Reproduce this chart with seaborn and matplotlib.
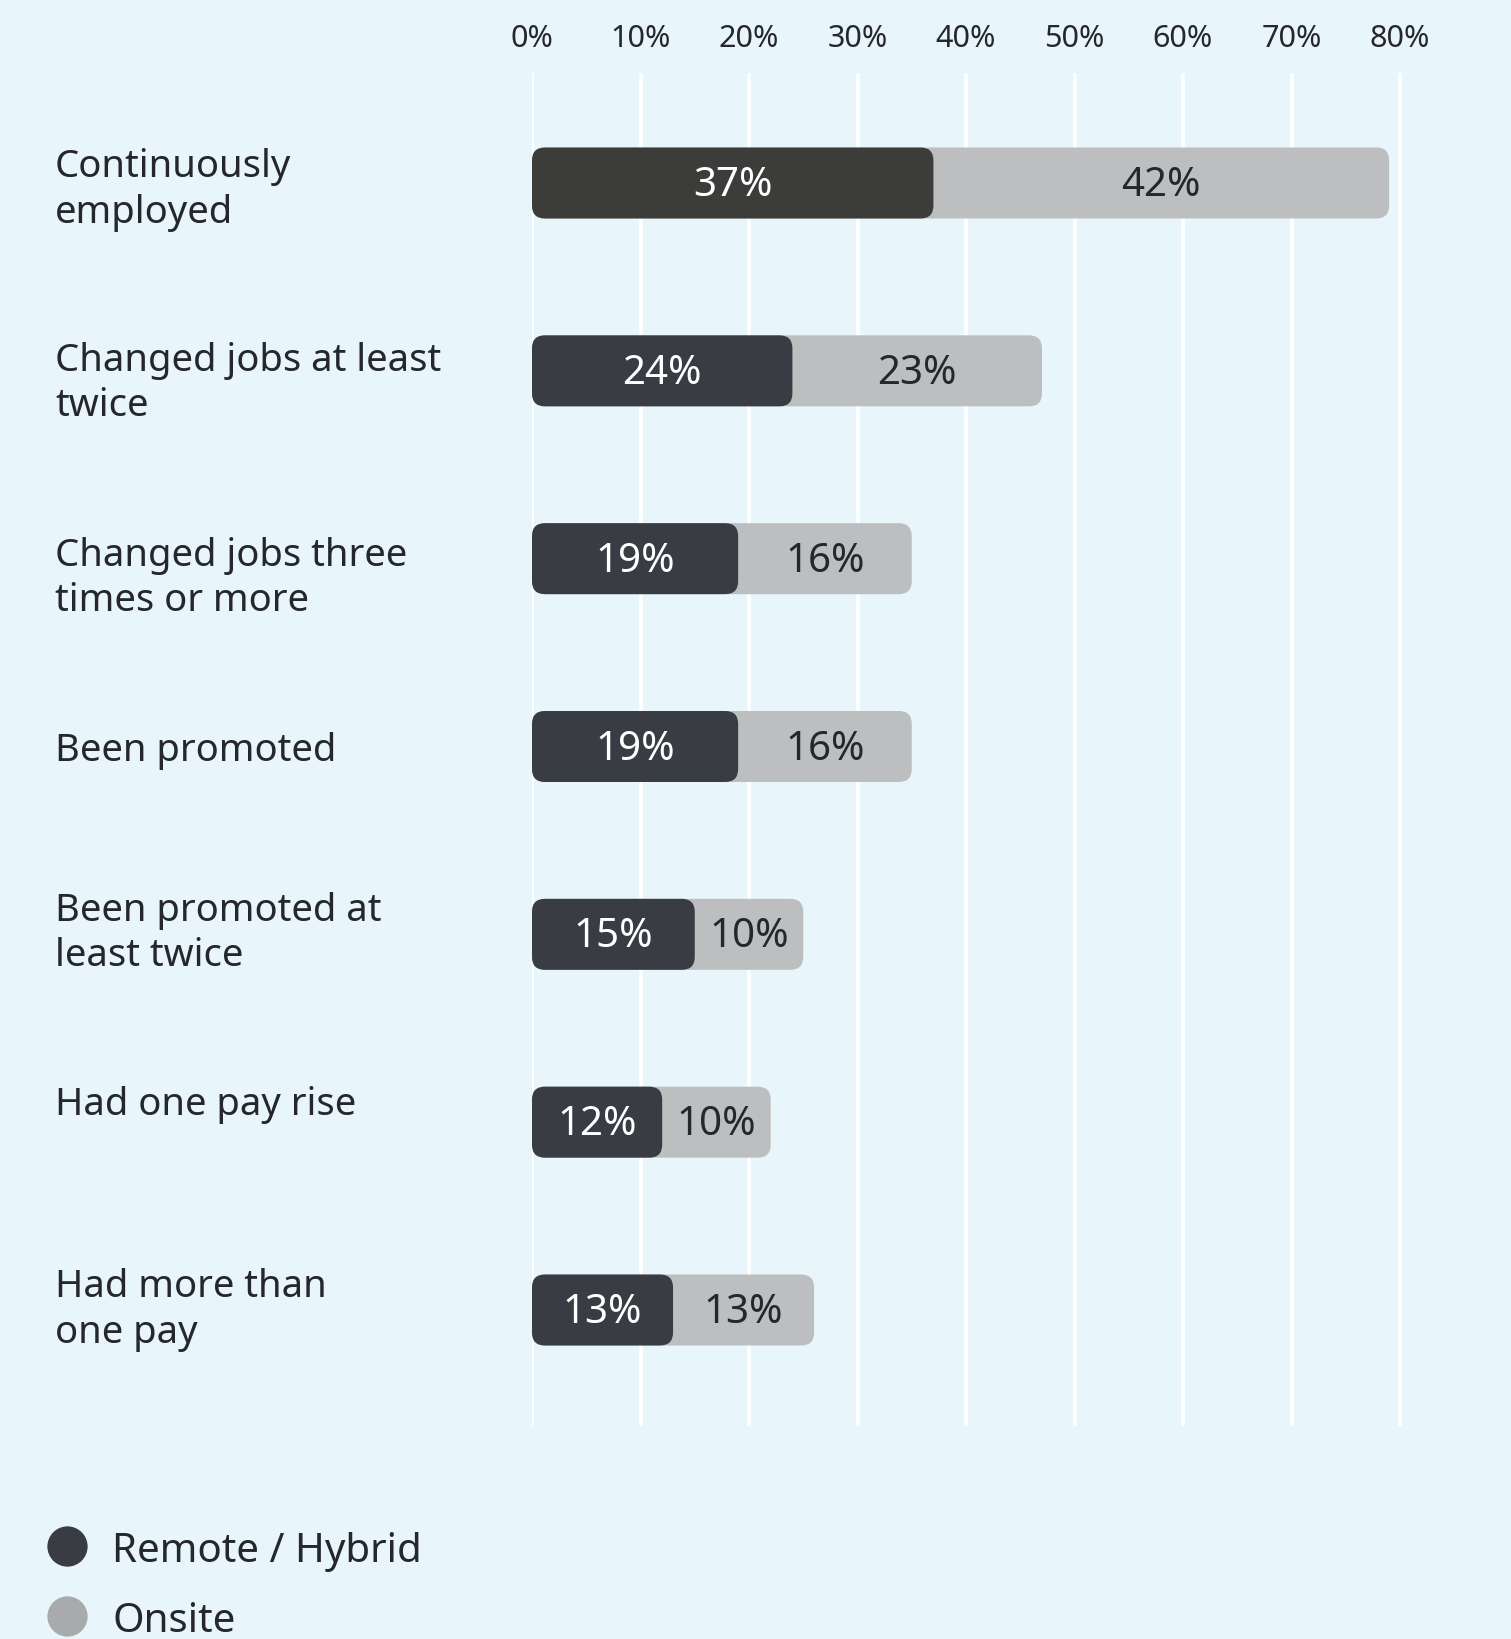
import matplotlib
matplotlib.use("Agg")
import matplotlib.pyplot as plt
from matplotlib.patches import FancyBboxPatch
from matplotlib.lines import Line2D
import seaborn as sns
import pandas as pd

categories = [
    "Continuously\nemployed",
    "Changed jobs at least\ntwice",
    "Changed jobs three\ntimes or more",
    "Been promoted",
    "Been promoted at\nleast twice",
    "Had one pay rise",
    "Had more than\none pay",
]
remote_hybrid = [37, 24, 19, 19, 15, 12, 13]
onsite = [42, 23, 16, 16, 10, 10, 13]
tick_values = [0, 10, 20, 30, 40, 50, 60, 70, 80]
series_names = ["Remote / Hybrid", "Onsite"]

BG = "#E8F6FC"
DARK = "#3A3C43"
DARK_TOP = "#3C3C3A"
GRAY = "#BDBEC0"
GRAY_LEGEND = "#A9AAAD"
TEXT = "#25272C"

df = pd.DataFrame({
    "category": categories,
    "remote": remote_hybrid,
    "onsite": onsite,
})
df["total"] = df["remote"] + df["onsite"]

sns.set_theme(style="white")
plt.rcParams["font.family"] = ["Noto Sans", "DejaVu Sans"]

W, H = 1511, 1639
fig = plt.figure(figsize=(W / 100, H / 100), dpi=100, facecolor=BG)

# axes placed in pixel terms: 0% at x=532, 80% at x=1400
ax_left, ax_right = 532, W
ax_top, ax_bottom = 73, 1426
ax = fig.add_axes([ax_left / W, 1 - ax_bottom / H,
                   (ax_right - ax_left) / W, (ax_bottom - ax_top) / H])
ax.set_facecolor(BG)
px_per_unit_x = (1400 - 532) / 80.0
xmax = (ax_right - ax_left) / px_per_unit_x

row_px = (1310 - 183) / 6.0
ylims = (6 + (ax_bottom - 1310) / row_px, -(183 - ax_top) / row_px)
bar_h = 71 / row_px

# stacked bars: full total in gray, remote share on top in dark
sns.barplot(data=df, y="category", x="total", orient="h", color=GRAY,
            width=bar_h, ax=ax, saturation=1)
n_gray = len(ax.patches)
sns.barplot(data=df, y="category", x="remote", orient="h", color=DARK,
            width=bar_h, ax=ax, saturation=1)
ax.set_xlim(0, xmax)
ax.set_ylim(*ylims)

# swap the square bars for rounded ones
radius_px = 13
aspect = px_per_unit_x / row_px
rects = list(ax.patches)
for i, p in enumerate(rects):
    x0, y0 = p.get_x(), p.get_y()
    w, h = p.get_width(), p.get_height()
    fc = p.get_facecolor()
    if i == n_gray:
        fc = DARK_TOP
    rounded = FancyBboxPatch((x0, y0), w, h,
                             boxstyle=f"round,pad=0,rounding_size={radius_px / px_per_unit_x}",
                             mutation_aspect=aspect, facecolor=fc,
                             edgecolor="none", zorder=3 if i >= n_gray else 2)
    ax.add_patch(rounded)
    p.remove()

# value labels
dy = 3 / row_px
for i, (r, o) in enumerate(zip(remote_hybrid, onsite)):
    ax.text(r / 2, i + dy, f"{r}%", ha="center", va="center", color="white",
            fontsize=29, zorder=5)
    ax.text(r + o / 2, i + dy, f"{o}%", ha="center", va="center", color=TEXT,
            fontsize=29, zorder=5)

# grid and ticks
for t in tick_values:
    ax.axvline(t, color="white", lw=2.6, zorder=1)
ax.grid(False)
ax.xaxis.tick_top()
ax.set_xticks(tick_values)
ax.set_xticklabels([f"{t}%" for t in tick_values], fontsize=22, color=TEXT)
ax.tick_params(axis="x", length=0, pad=14)
ax.set_yticks([])
ax.set_xlabel("")
ax.set_ylabel("")
for s in ax.spines.values():
    s.set_visible(False)

# category labels on the left
label_offsets_px = [7, 13, 20, 4, -1, -17, 0]
for i, (lab, off) in enumerate(zip(categories, label_offsets_px)):
    ypx = 183 + i * row_px + off
    fig.text(55 / W, 1 - ypx / H, lab, ha="left", va="center",
             fontsize=27.5, color=TEXT, linespacing=1.25)

# legend
handles = [
    Line2D([], [], marker="o", linestyle="none", markersize=29,
           markerfacecolor=DARK, markeredgecolor="none"),
    Line2D([], [], marker="o", linestyle="none", markersize=29,
           markerfacecolor=GRAY_LEGEND, markeredgecolor="none"),
]
leg = fig.legend(handles, series_names, loc="upper left",
                 bbox_to_anchor=(47 / W, 1 - 1530 / H), frameon=False,
                 fontsize=29, handlelength=1.0, handleheight=1.0,
                 handletextpad=0.62, labelspacing=0.71, borderpad=0,
                 borderaxespad=0)
for t in leg.get_texts():
    t.set_color(TEXT)

fig.savefig("out.png", dpi=100, facecolor=BG)
